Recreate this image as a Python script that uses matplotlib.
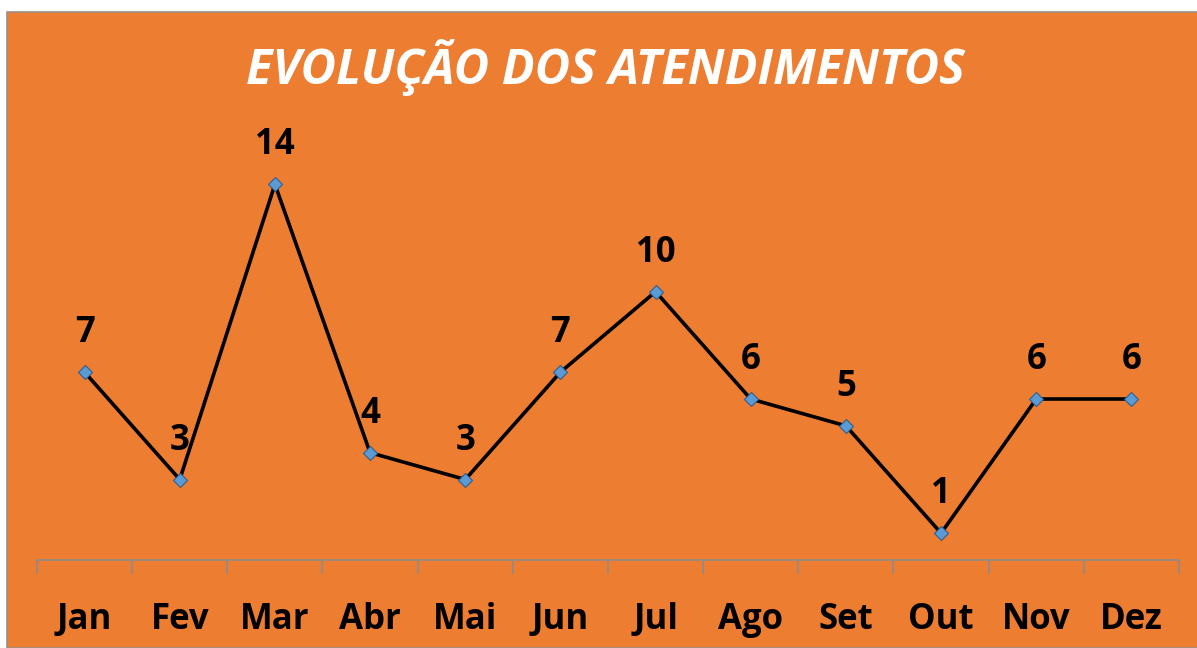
import matplotlib.pyplot as plt
from matplotlib.patches import Rectangle

months = ['Jan', 'Fev', 'Mar', 'Abr', 'Mai', 'Jun', 'Jul', 'Ago', 'Set', 'Out', 'Nov', 'Dez']
atendimentos = [7, 3, 14, 4, 3, 7, 10, 6, 5, 1, 6, 6]

ORANGE = '#ED7D31'
W, H = 1197, 648

fig = plt.figure(figsize=(W / 100, H / 100), dpi=100)
fig.patch.set_facecolor('white')

# orange chart area with thin grey border
bg = Rectangle((7 / W, 0), 1, 1 - 12 / H, transform=fig.transFigure,
               facecolor=ORANGE, edgecolor='#9A9088', linewidth=1.2, zorder=-1)
fig.patches.append(bg)

ax = fig.add_axes([37 / W, 1 - 560 / H, (1179 - 37) / W, (560 - 130.7) / H])
ax.set_facecolor('none')
ax.set_zorder(1)

x = list(range(len(months)))
ax.plot(x, atendimentos, color='black', linewidth=2.6, marker='D', markersize=7,
        markerfacecolor='#5B9BD5', markeredgecolor='#2E5F8E', markeredgewidth=0.8,
        zorder=3, clip_on=False)

for xi, v in zip(x, atendimentos):
    ax.annotate(str(v), (xi, v), xytext=(0, 28), textcoords='offset points',
                ha='center', va='center', fontsize=25, fontweight='bold',
                family='Open Sans', color='black')

ax.set_xlim(-0.5, len(months) - 0.5)
ax.set_ylim(0, 16)

for s in ['left', 'right', 'top']:
    ax.spines[s].set_visible(False)
ax.spines['bottom'].set_color('#8C8C8C')
ax.spines['bottom'].set_linewidth(1.2)

ax.set_yticks([])
ax.set_xticks([i - 0.5 for i in range(len(months) + 1)], minor=False)
ax.set_xticklabels([])
ax.tick_params(axis='x', which='major', length=10, width=1.2, color='#8C8C8C')
ax.set_xticks(x, minor=True)
ax.set_xticklabels(months, minor=True, fontsize=25, fontweight='bold',
                   family='Open Sans')
ax.tick_params(axis='x', which='minor', length=0, pad=30)

fig.text(0.506, 1 - 67 / H, 'EVOLUÇÃO DOS ATENDIMENTOS', ha='center', va='center',
         fontsize=35, fontweight='bold', fontstyle='italic', family='Open Sans',
         color='white')

fig.savefig('out.png', dpi=100, facecolor=fig.get_facecolor())
